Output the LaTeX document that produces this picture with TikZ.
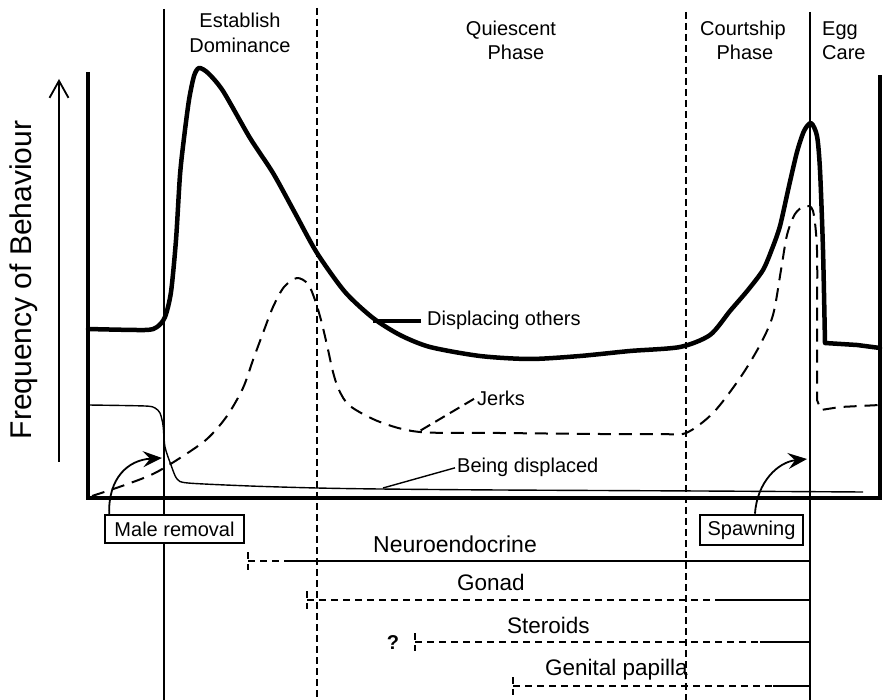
\documentclass[tikz,border=0pt]{standalone}
\usepackage{fontspec}
\setmainfont{Liberation Sans}
\usetikzlibrary{arrows.meta}
\begin{document}
\begin{tikzpicture}[x=1pt,y=-1pt,
  lbl/.style={font=\fontsize{20}{24}\selectfont, inner sep=0pt},
  biglbl/.style={font=\fontsize{22.5}{27}\selectfont, inner sep=0pt},
  axisline/.style={line width=4.5pt},
  thickcurve/.style={line width=4.5pt, line join=round, line cap=round},
  thincurve/.style={line width=1.4pt, line join=round},
  jerkdash/.style={line width=2pt, dash pattern=on 13pt off 8pt, line join=round},
  phasedash/.style={line width=1.8pt, dash pattern=on 7pt off 4pt},
  phasesolid/.style={line width=1.5pt},
  bardash/.style={line width=1.6pt, dash pattern=on 7pt off 5pt},
  barsolid/.style={line width=1.6pt},
  boxlbl/.style={draw, fill=white, font=\fontsize{20}{24}\selectfont, inner sep=0pt},
  callout/.style={line width=1.8pt, -{Stealth[length=19pt,width=16pt,inset=7pt]}}
]
\useasboundingbox (0,0) rectangle (884,700);

% phase dividers
\draw[phasesolid] (164,9) -- (164,700);
\draw[phasedash] (317,8) -- (317,700);
\draw[phasedash] (686,12) -- (686,700);
\draw[phasesolid] (810,12) -- (810,700);

% phase labels
\node[lbl, anchor=base] (est) at (240,28) {Establish};
\node[lbl, anchor=base] (dom) at (240,53) {Dominance};
\node[lbl, anchor=base] (qui) at (511,36) {Quiescent};
\node[lbl, anchor=base] (qph) at (516,60) {Phase};
\node[lbl, anchor=base] (crt) at (743,36) {Courtship};
\node[lbl, anchor=base] (cph) at (745,60) {Phase};
\node[lbl, anchor=base west] (egg) at (822,36) {Egg};
\node[lbl, anchor=base west] (care) at (822,60) {Care};

% y-axis label and arrow
\coordinate (arrlo) at (59,462);
\coordinate (arrhi) at (59,79);
\draw[line width=1.6pt, -{Straight Barb[length=17pt,width=19pt,line width=1.8pt]}] (arrlo) -- (arrhi);
\node[font=\fontsize{30}{36}\selectfont, inner sep=0pt, rotate=90] (freq) at (24,280) {Frequency of Behaviour};

% being displaced (thin)
\draw[thincurve] plot[smooth, tension=0.45] coordinates {
 (88,405) (145,406) (155,408) (160,413) (163,425) (165,447) (171,465) (177,479) (188,483)
 (250,486) (317,488) (380,489) (500,490) (700,491) (863,492)};

% jerks (dashed)
\draw[jerkdash] plot[smooth, tension=0.5] coordinates {
 (92,496) (122,486) (153,474) (180,458) (207,439) (227,416) (243,388) (253,360)
 (263,333) (273,307) (284,287) (297,278) (308,284) (315,300) (321,320) (327,345)
 (333,372) (339,390) (350,406) (380,422) (420,432) (500,433) (600,434) (660,434)
 (686,433) (713,413) (740,378) (760,345) (773,315) (781,270) (787,235) (795,214)
 (805,206) (813,211) (817,250) (817,330) (817,400)}
 -- (821,410) -- (840,407) -- (880,405);

% displacing others (thick)
\draw[thickcurve] plot[smooth, tension=0.45] coordinates {
 (88,329) (145,330) (157,327) (165,317) (171,292) (176,240) (180,175) (184,138)
 (189,100) (194,76) (199,68) (208,73) (223,91) (250,138) (273,173) (295,213)
 (317,253) (345,292) (373,318) (400,335) (430,347) (480,356) (530,359) (580,356)
 (630,351) (680,347) (710,335) (730,311) (748,290) (763,270) (772,249) (780,226)
 (789,186) (797,152) (804,131) (811,123) (817,136) (820,170) (823,250) (825,343)}
 -- (857,345) -- (880,348);

% axes
\draw[axisline] (88,72) -- (88,498) -- (880,498) -- (880,75);

% curve labels
\node[lbl, anchor=base west] (dl) at (427,326) {Displacing others};
\coordinate (dlend) at (373,319);
\draw[line width=4.5pt] ([xshift=-6pt]dl.west) -- (dlend |- dl.west);

\node[lbl, anchor=base west] (jl) at (477,406) {Jerks};
\coordinate (jlend) at (418,432);
\draw[jerkdash, dash pattern=on 11pt off 6pt] ([xshift=-3pt]jl.west) -- (jlend);

\node[lbl, anchor=base west] (bl) at (457,473) {Being displaced};
\coordinate (blend) at (383,488);
\draw[line width=1.4pt] ([xshift=-2pt]bl.west) -- (blend);

% event boxes
\node[boxlbl, line width=1.6pt, minimum width=139pt, minimum height=28pt] (mr) at (174.5,529) {Male removal};
\coordinate (mrtip) at (162,458);
\draw[callout] ([xshift=5pt]mr.north west) .. controls (108,478) and (128,460) .. (mrtip);

\node[boxlbl, line width=2.6pt, minimum width=103pt, minimum height=30pt] (sp) at (751.5,530) {Spawning};
\coordinate (sptip) at (807,459);
\draw[callout] ([xshift=3.5pt]sp.north) .. controls (757,482) and (778,462) .. (sptip);

% physiological bars
\node[biglbl, anchor=base west, font=\fontsize{23}{27}\selectfont] (neu) at (373,552) {Neuroendocrine};
\draw[bardash] (248,552) -- (248,570);
\draw[bardash] (248,561) -- (285,561);
\draw[barsolid] (285,561) -- (810,561);

\node[biglbl, anchor=base west] (gon) at (457,590) {Gonad};
\draw[bardash] (307,591) -- (307,609);
\draw[bardash] (307,600) -- (717,600);
\draw[barsolid] (717,600) -- (810,600);

\node[biglbl, anchor=base west] (ste) at (507,633) {Steroids};
\node[inner sep=0pt, font=\bfseries\fontsize{20}{24}\selectfont] (qm) at (393,643) {?};
\draw[bardash] (415,633) -- (415,651);
\draw[bardash] (415,642) -- (760,642);
\draw[barsolid] (760,642) -- (810,642);

\node[biglbl, anchor=base west] (gen) at (545,675) {Genital papilla};
\draw[bardash] (513,677) -- (513,695);
\draw[bardash] (513,686) -- (773,686);
\draw[barsolid] (773,686) -- (810,686);
\end{tikzpicture}
\end{document}
